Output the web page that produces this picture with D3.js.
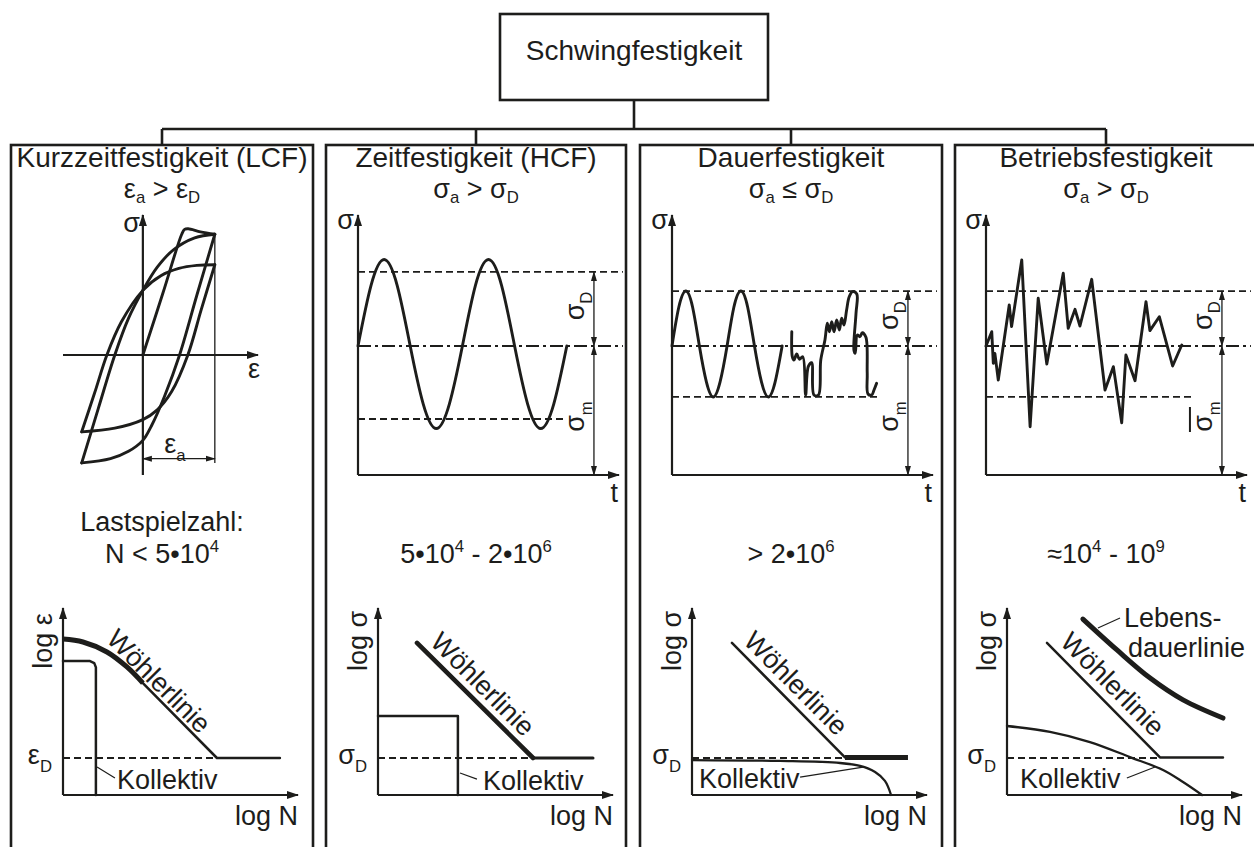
<!DOCTYPE html>
<html>
<head>
<meta charset="utf-8">
<script src="https://cdn.jsdelivr.net/npm/d3@7"></script>
<style>
  html, body { margin: 0; padding: 0; background: #fff; }
  svg { display: block; font-family: "Liberation Sans", Arial, Helvetica, sans-serif; }
</style>
</head>
<body>
<svg id="chart" width="1254" height="847"></svg>
<script>
// ---------------- data ----------------
const rootTitle = "Schwingfestigkeit";
const categories = ["Kurzzeitfestigkeit (LCF)", "Zeitfestigkeit (HCF)", "Dauerfestigkeit", "Betriebsfestigkeit"];
// [text, kind] pieces; kind "sub" / "sup" marks indices
const conditions = [
  [["ε"], ["a", "sub"], [" > ε"], ["D", "sub"]],
  [["σ"], ["a", "sub"], [" > σ"], ["D", "sub"]],
  [["σ"], ["a", "sub"], [" ≤ σ"], ["D", "sub"]],
  [["σ"], ["a", "sub"], [" > σ"], ["D", "sub"]]
];
const cycleHeading = "Lastspielzahl:";
const cycleRanges = [
  [["N < 5•10"], ["4", "sup"]],
  [["5•10"], ["4", "sup"], [" - 2•10"], ["6", "sup"]],
  [["> 2•10"], ["6", "sup"]],
  [["≈10"], ["4", "sup"], [" - 10"], ["9", "sup"]]
];

// hysteresis loops (ε in units of ε_a, σ relative)
const hystInitial = [[0, 0], [0.28, 0.51], [0.54, 0.99], [0.58, 1.03], [0.63, 1.035], [0.8, 1.01], [1.0, 0.99]];
const loop1Upper = [[-0.85, -0.885], [-0.62, -0.44], [-0.39, 0], [-0.2, 0.3], [0, 0.53], [0.2, 0.72], [0.42, 0.86], [0.72, 0.96], [1, 0.99]];
const loop1Lower = [[1, 0.99], [0.75, 0.49], [0.51, 0], [0.3, -0.34], [0.12, -0.58], [0, -0.7], [-0.2, -0.79], [-0.45, -0.85], [-0.85, -0.885]];
const loop2Upper = [[-0.85, -0.63], [-0.67, -0.31], [-0.5, 0], [-0.3, 0.27], [0, 0.53], [0.25, 0.65], [0.5, 0.71], [0.75, 0.735], [1, 0.74]];
const loop2Lower = [[1, 0.74], [0.81, 0.37], [0.625, 0], [0.4, -0.3], [0.2, -0.45], [0, -0.53], [-0.39, -0.6], [-0.85, -0.63]];
const strainAmplitude = 1.0;

// stress-time signals: [t, σ]
const hcfLevels = { upper: 5.74, mean: 0, lower: -5.66 };
const hcfSignal = [[0, 0], [0.5, 4.7], [1, 6.7], [1.5, 4.7], [2, 0], [2.5, -4.5], [3, -6.4], [3.5, -4.5], [4, 0],
  [4.5, 4.7], [5, 6.7], [5.5, 4.7], [6, 0], [6.5, -4.5], [7, -6.4], [7.5, -4.5], [8, 0]];
const dauerLevels = { upper: 4.26, mean: 0, lower: -3.95 };
const dauerSine = [[0, 0], [0.26, 3.0], [0.53, 4.26], [0.79, 3.0], [1.05, 0], [1.32, -2.8], [1.58, -3.95], [1.84, -2.8], [2.11, 0],
  [2.37, 3.0], [2.64, 4.26], [2.9, 3.0], [3.16, 0], [3.43, -2.8], [3.69, -3.95], [3.95, -2.8], [4.22, 0]];
const dauerRandom = [[4.59, 1.11], [4.61, -0.83], [4.67, -1.09], [4.78, -0.62], [4.88, -1.03], [5.01, -0.83], [5.12, -3.8],
  [5.22, -1.6], [5.35, -1.29], [5.44, -3.8], [5.61, -3.8], [5.7, -1.09], [5.86, 0.47], [5.95, 1.76], [6.03, 1.11],
  [6.12, 1.88], [6.21, 1.11], [6.31, 2.02], [6.41, 1.24], [6.5, 2.15], [6.59, 1.63], [6.69, 2.79], [6.79, 3.82],
  [6.92, 4.21], [7.08, 4.03], [7.05, 2.53], [6.97, -0.31], [7.02, -0.57], [7.1, 0.85], [7.2, 0.72], [7.29, 1.03],
  [7.43, 0.67], [7.48, -2.12], [7.51, -3.72], [7.65, -3.8], [7.74, -3.41], [7.84, -2.89]];
const betriebLevels = { upper: 4.26, mean: 0, lower: -3.95 };
const betriebSignal = [[0, 0], [0.22, 1.11], [0.28, -1.34], [0.34, -0.57], [0.47, -2.64], [0.89, 3.18], [0.98, 1.5],
  [1.37, 6.67], [1.69, -6.26], [2.0, 3.7], [2.33, -1.4], [2.96, 5.64], [3.15, 1.37], [3.41, 2.84], [3.6, 1.55],
  [4.05, 5.17], [4.56, -3.41], [4.88, -1.6], [5.2, -5.95], [5.36, -0.7], [5.71, -2.69], [6.13, 3.43], [6.28, 1.19],
  [6.64, 2.27], [7.15, -1.55], [7.5, 0.08]];

// S-N diagrams: [log N, log σ] in relative units
const lcfWoehlerCurve = [[0, 8.43], [0.85, 8.27], [1.87, 7.73], [2.72, 6.92], [3.4, 6.05]];
const lcfWoehlerLine = [[3.4, 6.05], [6.55, 2.0], [9.23, 2.0]];
const lcfKollektiv = [[0, 7.24], [1.15, 7.24], [1.33, 7.13], [1.4, 6.9], [1.4, 0]];
const lcfLimit = 2.0;

const hcfWoehler = [[1.66, 8.22], [6.6, 2.0]];
const hcfEndurance = [[6.6, 2.0], [9.15, 2.0]];
const hcfKollektiv = [[0, 4.27], [3.4, 4.27], [3.4, 0]];
const hcfLimit = 2.0;

const dauerWoehler = [[1.7, 8.22], [6.51, 2.03]];
const dauerEndurance = [[6.51, 2.03], [9.19, 2.03]];
const dauerKollektiv = [[0, 1.89], [3.74, 1.84], [6.3, 1.73], [7.15, 1.57], [7.79, 1.24], [8.21, 0.76], [8.47, 0]];
const dauerLimit = 2.0;

const betriebWoehler = [[1.7, 8.22], [6.51, 2.03], [9.19, 2.03]];
const betriebLebensdauer = [[3.23, 9.51], [4.68, 7.84], [6.09, 6.32], [7.49, 5.14], [9.19, 4.16]];
const betriebKollektiv = [[0, 3.73], [1.83, 3.41], [3.53, 2.86], [5.23, 2.05], [6.64, 1.35], [7.49, 0.7], [8.3, 0]];
const betriebLimit = 2.0;

// ---------------- drawing ----------------
const INK = "#1d1d1b";
const svg = d3.select("#chart");
const defs = svg.append("defs");

function marker(id, len, wid) {
  defs.append("marker")
    .attr("id", id)
    .attr("markerUnits", "userSpaceOnUse")
    .attr("markerWidth", len + 2).attr("markerHeight", wid + 2)
    .attr("refX", len - 1).attr("refY", wid / 2 + 1)
    .attr("orient", "auto-start-reverse")
    .append("path")
    .attr("d", `M0,1 L${len},${wid / 2 + 1} L0,${wid + 1} Z`)
    .attr("fill", INK);
}
marker("axisHead", 12, 8);
marker("dimHead", 10, 6);

function label(g, x, y, parts, opts = {}) {
  const size = opts.size || 27;
  const subShift = opts.sub || 0.3;
  const t = g.append("text")
    .attr("font-size", size)
    .attr("fill", INK)
    .attr("text-anchor", opts.anchor || "start");
  if (opts.rotate !== undefined) {
    t.attr("transform", `translate(${x},${y}) rotate(${opts.rotate})`).attr("y", opts.base || 0);
  } else {
    t.attr("x", x).attr("y", y);
  }
  if (typeof parts === "string") parts = [[parts]];
  let shift = 0;
  parts.forEach(([s, k]) => {
    const target = k === "sub" ? size * subShift : k === "sup" ? -size * 0.42 : 0;
    const ts = t.append("tspan").text(s);
    if (target - shift !== 0) ts.attr("dy", target - shift);
    if (k) ts.attr("font-size", size * 0.62);
    shift = target;
  });
  return t;
}

function seg(g, x1, y1, x2, y2, w, extra = {}) {
  const l = g.append("line")
    .attr("x1", x1).attr("y1", y1).attr("x2", x2).attr("y2", y2)
    .attr("stroke", INK).attr("stroke-width", w);
  Object.entries(extra).forEach(([k, v]) => l.attr(k, v));
  return l;
}

function path(g, data, x, y, curve, w, extra = {}) {
  const p = g.append("path")
    .attr("d", d3.line().x(d => x(d[0])).y(d => y(d[1])).curve(curve)(data))
    .attr("fill", "none").attr("stroke", INK).attr("stroke-width", w)
    .attr("stroke-linejoin", "round").attr("stroke-linecap", "round");
  Object.entries(extra).forEach(([k, v]) => p.attr(k, v));
  return p;
}

const DASH = "7,4";
const DASHDOT = "13,4,3,4";
const CURVE_W = 2.9;

// ---- hierarchy frame ----
const panelX = [11, 326, 640, 955];
const panelR = [313, 626, 942, 1257];
const centers = panelX.map((x, i) => (x + panelR[i]) / 2);
const frame = svg.append("g");
frame.append("rect").attr("x", 500).attr("y", 14).attr("width", 268).attr("height", 86)
  .attr("fill", "none").attr("stroke", INK).attr("stroke-width", 2.6);
label(frame, 634, 60, rootTitle, { size: 28, anchor: "middle" });
seg(frame, 634, 100, 634, 129, 2.6);
seg(frame, centers[0], 129, centers[3], 129, 2.6);
centers.forEach(c => seg(frame, c, 129, c, 145, 2.6));
panelX.forEach((x, i) => {
  frame.append("rect").attr("x", x).attr("y", 145).attr("width", panelR[i] - x).attr("height", 760)
    .attr("fill", "none").attr("stroke", INK).attr("stroke-width", 2.6);
});

categories.forEach((c, i) => {
  label(frame, centers[i], 167, c, { size: 28, anchor: "middle" });
  label(frame, centers[i], 197.5, conditions[i], { size: 27, anchor: "middle", sub: 0.22 });
  label(frame, centers[i], 563, cycleRanges[i], { size: 27, anchor: "middle" });
});
label(frame, centers[0], 531, cycleHeading, { size: 27, anchor: "middle" });

// ---- panel 1: hysteresis ----
{
  const g = svg.append("g");
  const x = d3.scaleLinear().domain([-1.11, 1.6]).range([63, 258]);
  const y = d3.scaleLinear().domain([-0.984, 1.148]).range([475, 215]);
  seg(g, x(0), y(-0.984), x(0), y(1.148), 2.2, { "marker-end": "url(#axisHead)" });
  seg(g, x(-1.11), y(0), x(1.6), y(0), 2.2, { "marker-end": "url(#axisHead)" });
  label(g, x(0) - 3, 231.5, "σ", { anchor: "end" });
  label(g, x(1.6) + 2, 378, "ε", { anchor: "end" });
  seg(g, x(strainAmplitude), y(1.0), x(strainAmplitude), y(-0.885), 1.3);
  seg(g, x(0), y(-0.85), x(strainAmplitude), y(-0.85), 1.3,
    { "marker-start": "url(#dimHead)", "marker-end": "url(#dimHead)" });
  label(g, (x(0) + x(strainAmplitude)) / 2 - 4, y(-0.85) - 6, [["ε"], ["a", "sub"]], { anchor: "middle" });
  const cr = d3.curveCatmullRom.alpha(0.5);
  [hystInitial, loop1Upper, loop1Lower, loop2Upper, loop2Lower].forEach(d => path(g, d, x, y, cr, CURVE_W));
}

// ---- stress-time diagrams (panels 2-4) ----
function timePlot(ax, levels, signals, extraBar) {
  const g = svg.append("g");
  const x = d3.scaleLinear().domain([0, 10]).range([ax, ax + 261]);
  const y = d3.scaleLinear().domain([-10, 10]).range([475, 217]);
  seg(g, x(0), y(-10), x(0), 215, 2.2, { "marker-end": "url(#axisHead)" });
  seg(g, x(0), y(-10), x(10), y(-10), 2.2, { "marker-end": "url(#axisHead)" });
  label(g, x(0) - 4, 229, "σ", { anchor: "end" });
  label(g, x(10) - 1, 502, "t", { anchor: "end" });
  seg(g, x(0), y(levels.mean), x(10.15), y(levels.mean), 1.8, { "stroke-dasharray": DASHDOT });
  seg(g, x(0), y(levels.upper), x(10.15), y(levels.upper), 1.8, { "stroke-dasharray": DASH });
  seg(g, x(0), y(levels.lower), x(7.92), y(levels.lower), 1.8, { "stroke-dasharray": DASH });
  const dx = x(9.04);
  seg(g, dx, y(levels.upper), dx, y(levels.mean), 1.3,
    { "marker-start": "url(#dimHead)", "marker-end": "url(#dimHead)" });
  seg(g, dx, y(levels.mean), dx, y(-10), 1.3,
    { "marker-start": "url(#dimHead)", "marker-end": "url(#dimHead)" });
  label(g, dx - 10, (y(levels.upper) + y(levels.mean)) / 2 - 3, [["σ"], ["D", "sub"]], { anchor: "middle", rotate: -90 });
  label(g, dx - 10, (y(levels.mean) + y(-10)) / 2 + 6, [["σ"], ["m", "sub"]], { anchor: "middle", rotate: -90 });
  if (extraBar) seg(g, dx - 32, 407, dx - 32, 432, 2);
  signals.forEach(([d, curve]) => path(g, d, x, y, curve, CURVE_W));
}
timePlot(358, hcfLevels, [[hcfSignal, d3.curveNatural]]);
timePlot(672, dauerLevels, [[dauerSine, d3.curveNatural], [dauerRandom, d3.curveCatmullRom.alpha(0.5)]]);
timePlot(986, betriebLevels, [[betriebSignal, d3.curveLinear]], true);

// ---- S-N diagrams ----
function snPlot(ox, yLabel, limitLabel, limit, limitEnd) {
  const g = svg.append("g");
  const x = d3.scaleLinear().domain([0, 10]).range([ox, ox + 235]);
  const y = d3.scaleLinear().domain([0, 10]).range([795, 610]);
  seg(g, x(0), y(0), x(0), 608, 2.2, { "marker-end": "url(#axisHead)" });
  seg(g, x(0), y(0), x(10), y(0), 2.2, { "marker-end": "url(#axisHead)" });
  label(g, x(0) - 11, 641, yLabel, { anchor: "middle", rotate: -90 });
  label(g, x(10), 825, "log N", { anchor: "end" });
  label(g, x(0) - 11, 764, limitLabel, { anchor: "end" });
  seg(g, x(0), y(limit), x(limitEnd), y(limit), 1.8, { "stroke-dasharray": DASH });
  return { g, x, y };
}
function woehlerText(p, cx, cy) {
  label(p.g, p.x(cx), p.y(cy), "Wöhlerlinie", { anchor: "middle", rotate: 45, base: 9.5 });
}
function kollektivText(p, tx, ty, from, to) {
  label(p.g, p.x(tx), p.y(ty), "Kollektiv");
  seg(p.g, p.x(from[0]), p.y(from[1]), p.x(to[0]), p.y(to[1]), 1.2);
}

{
  const p = snPlot(63, "log ε", [["ε"], ["D", "sub"]], lcfLimit, 6.55);
  path(p.g, lcfWoehlerCurve, p.x, p.y, d3.curveCatmullRom, 5, { "stroke-linecap": "butt" });
  path(p.g, lcfWoehlerLine, p.x, p.y, d3.curveLinear, 2.5);
  path(p.g, lcfKollektiv, p.x, p.y, d3.curveLinear, 2.5);
  woehlerText(p, 4.09, 6.16);
  kollektivText(p, 2.3, 0.32, [1.45, 1.51], [2.21, 0.92]);
}
{
  const p = snPlot(378, "log σ", [["σ"], ["D", "sub"]], hcfLimit, 6.6);
  path(p.g, hcfWoehler, p.x, p.y, d3.curveLinear, 4.6);
  path(p.g, hcfEndurance, p.x, p.y, d3.curveLinear, 3);
  path(p.g, hcfKollektiv, p.x, p.y, d3.curveLinear, 2.5);
  woehlerText(p, 4.47, 6.0);
  kollektivText(p, 4.47, 0.27, [3.49, 1.19], [4.21, 0.86]);
}
{
  const p = snPlot(692, "log σ", [["σ"], ["D", "sub"]], dauerLimit, 6.51);
  path(p.g, dauerWoehler, p.x, p.y, d3.curveLinear, 2.5);
  path(p.g, dauerEndurance, p.x, p.y, d3.curveLinear, 5, { "stroke-linecap": "butt" });
  path(p.g, dauerKollektiv, p.x, p.y, d3.curveCatmullRom, 2.3);
  woehlerText(p, 4.43, 6.05);
  kollektivText(p, 0.3, 0.38, [7.28, 1.51], [4.6, 0.97]);
}
{
  const p = snPlot(1007, "log σ", [["σ"], ["D", "sub"]], betriebLimit, 6.51);
  path(p.g, betriebWoehler, p.x, p.y, d3.curveLinear, 2.5);
  path(p.g, betriebLebensdauer, p.x, p.y, d3.curveCatmullRom, 5);
  path(p.g, betriebKollektiv, p.x, p.y, d3.curveCatmullRom, 2.3);
  woehlerText(p, 4.51, 6.0);
  kollektivText(p, 0.55, 0.38, [6.3, 1.51], [5.1, 0.92]);
  label(p.g, p.x(4.98), 626.5, "Lebens-");
  label(p.g, p.x(5.15), 657, "dauerlinie");
  seg(p.g, p.x(3.87), p.y(9.03), p.x(4.81), p.y(9.57), 1.2);
}
</script>
</body>
</html>
